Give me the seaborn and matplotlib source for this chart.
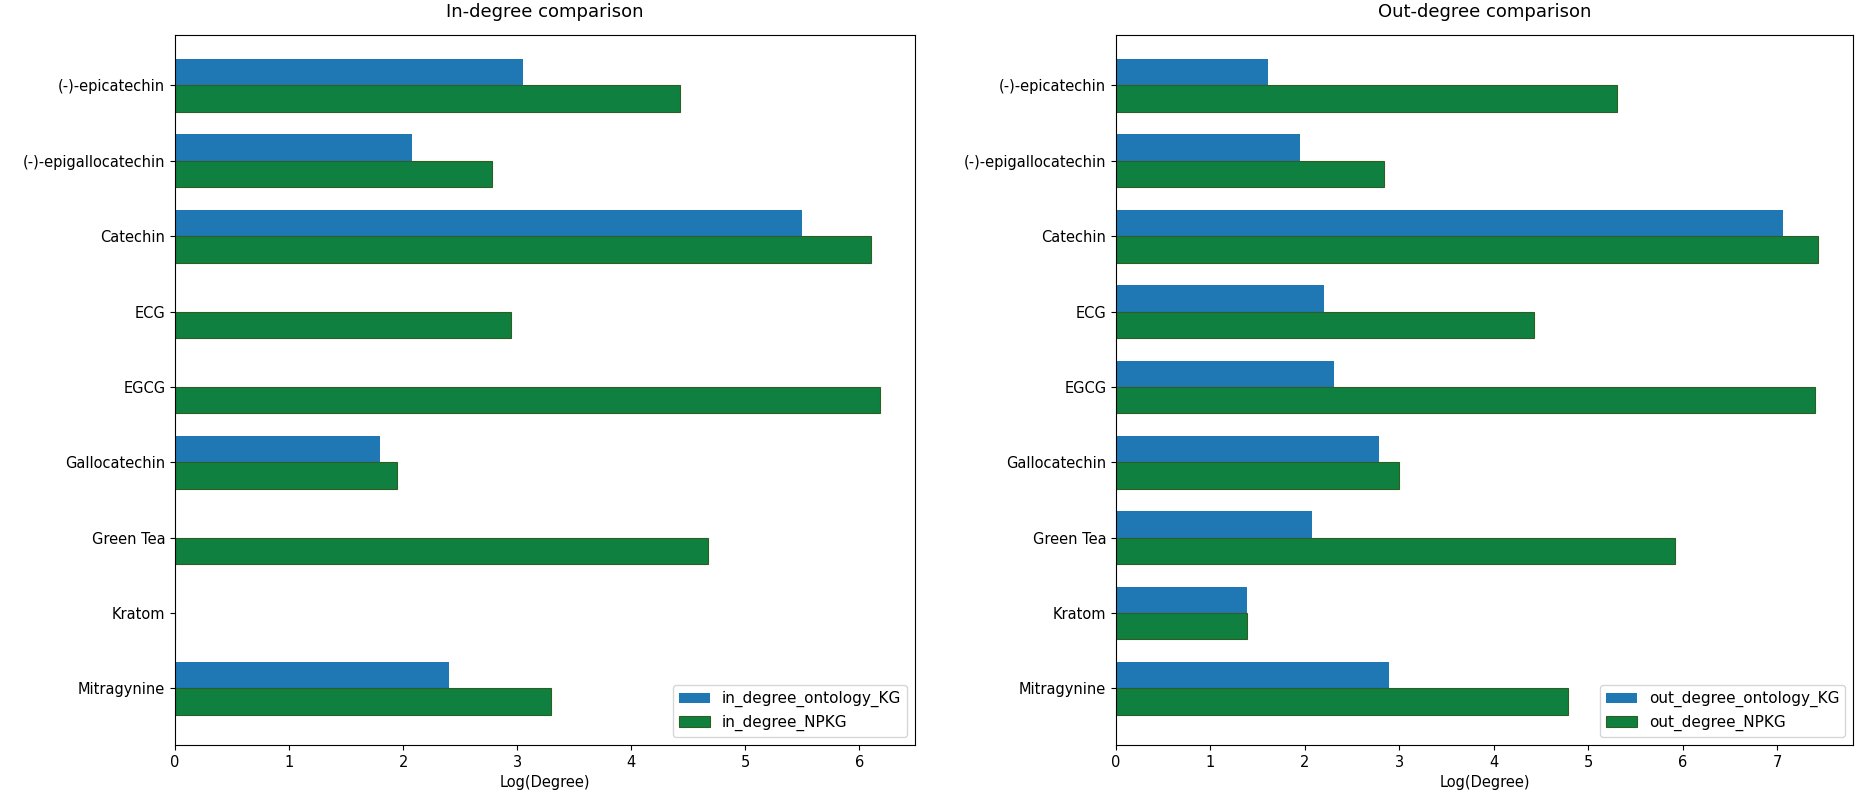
#!/usr/bin/env python3
"""
In-degree / out-degree comparison between ontology KG and NPKG.
"""

import pandas as pd
import matplotlib
matplotlib.use("Agg")
import matplotlib.pyplot as plt
import seaborn as sns

compounds = ["(-)-epicatechin", "(-)-epigallocatechin", "Catechin", "ECG", "EGCG",
             "Gallocatechin", "Green Tea", "Kratom", "Mitragynine"]

# log(degree) values (0 = no bar)
in_degree_ontology_KG = [3.05, 2.08, 5.50, 0, 0, 1.80, 0, 0, 2.40]
in_degree_NPKG = [4.43, 2.78, 6.10, 2.95, 6.18, 1.95, 4.67, 0, 3.30]
out_degree_ontology_KG = [1.61, 1.95, 7.06, 2.20, 2.31, 2.78, 2.08, 1.39, 2.89]
out_degree_NPKG = [5.30, 2.84, 7.43, 4.42, 7.40, 3.00, 5.92, 1.39, 4.78]

BLUE = "#1f77b4"
GREEN = "#0f8040"


def make_long(a_name, a_vals, b_name, b_vals):
    df = pd.DataFrame({"compound": compounds, a_name: a_vals, b_name: b_vals})
    return df.melt(id_vars="compound", var_name="series", value_name="value")


def draw(ax, df, title):
    sns.barplot(data=df, y="compound", x="value", hue="series", orient="h",
                width=0.7, palette=[BLUE, GREEN], saturation=1, ax=ax, errorbar=None)
    for p in ax.patches:
        fc = p.get_facecolor()
        if fc[1] > 0.4 and fc[2] < 0.4:
            p.set_edgecolor("#2f5f20")
            p.set_linewidth(0.8)
    ax.set_ylim(8.75, -0.67)
    ax.set_title(title, fontsize=13, pad=13)
    ax.set_xlabel("Log(Degree)", fontsize=10.5)
    ax.set_ylabel("")
    ax.tick_params(labelsize=10.5)
    ax.legend(loc="lower right", fontsize=11, title=None)


fig = plt.figure(figsize=(18.66, 8.07), dpi=100)
ax1 = fig.add_axes([175 / 1866, 62 / 807, 740 / 1866, 710 / 807])
ax2 = fig.add_axes([1116 / 1866, 62 / 807, 737 / 1866, 710 / 807])

draw(ax1, make_long("in_degree_ontology_KG", in_degree_ontology_KG,
                    "in_degree_NPKG", in_degree_NPKG), "In-degree comparison")
draw(ax2, make_long("out_degree_ontology_KG", out_degree_ontology_KG,
                    "out_degree_NPKG", out_degree_NPKG), "Out-degree comparison")

plt.savefig("out.png", dpi=100)
